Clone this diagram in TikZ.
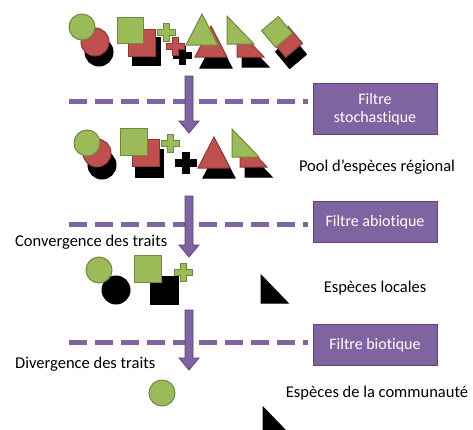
\documentclass[tikz,border=0pt]{standalone}
\usepackage{fontspec}
\setmainfont[Ligatures=NoCommon]{Carlito}
\definecolor{vertc}{HTML}{9BBB59}
\definecolor{vertf}{HTML}{71893F}
\definecolor{rougec}{HTML}{C0504D}
\definecolor{rougef}{HTML}{8C3836}
\definecolor{violetc}{HTML}{8064A2}
\definecolor{violetf}{HTML}{5C4776}
\begin{document}
\begin{tikzpicture}[x=1pt,y=-1pt,
  vert/.style={fill=vertc,draw=vertf,line width=1},
  rouge/.style={fill=rougec,draw=rougef,line width=1},
  noir/.style={fill=black,draw=black,line width=1},
  tiret/.style={draw=violetc,line width=5,dash pattern=on 18pt off 8pt},
  fleche/.style={fill=violetc,draw=violetf,line width=.8},
  filtre/.style={draw=violetf,fill=violetc,line width=1,text=white,minimum width=124,
    align=center,inner sep=0,font=\fontsize{16}{18}\selectfont},
  lbl/.style={font=\fontsize{16.5}{19}\selectfont,inner sep=0},
  croix/.pic={\path[pic actions] (-3,-9) -- (3,-9) -- (3,-3) -- (9,-3) -- (9,3) -- (3,3)
    -- (3,9) -- (-3,9) -- (-3,3) -- (-9,3) -- (-9,-3) -- (-3,-3) -- cycle;},
  tri/.pic={\path[pic actions] (0,0) -- (16,31) -- (-16,31) -- cycle;},
  trirect/.pic={\path[pic actions] (0,0) -- (0,28) -- (27,28) -- cycle;},
  losange/.pic={\path[pic actions,rotate=40] (-11,-11) rectangle (11,11);}]
  \clip (0,0) rectangle (473,429);

  % filtres et lignes de coupure
  \foreach \y in {101,224,342}
    \draw[tiret] (69,\y) -- (308,\y);
  \foreach \ya/\yb in {76/133,196/257,310/370}
    \draw[fleche] (185,\ya) -- (193,\ya) -- (193,\yb-12) -- (199,\yb-12) -- (189,\yb)
      -- (179,\yb-12) -- (185,\yb-12) -- cycle;
  \node[filtre,minimum height=51] (fstoch) at (375,109) {Filtre\\stochastique};
  \node[filtre,minimum height=41] (fabio) at (375,222) {Filtre abiotique};
  \node[filtre,minimum height=41] (fbio) at (375,345) {Filtre biotique};

  % pool de depart
  \draw[noir] (99,52) circle (14);
  \draw[rouge] (95,42) circle (14);
  \draw[vert] (82,27) circle (13);
  \draw[noir] (132,37) rectangle ++(28,28);
  \draw[rouge] (128,29) rectangle ++(27,27);
  \draw[vert] (117,17) rectangle ++(26,26);
  \pic[noir] at (182,55) {croix};
  \pic[rouge] at (175,46) {croix};
  \pic[vert] at (166,32) {croix};
  \pic[noir] at (216,37) {tri};
  \pic[rouge] at (211,26) {tri};
  \pic[vert] at (202,14) {tri};
  \pic[noir] at (242,39) {trirect};
  \pic[rouge] at (237,29) {trirect};
  \pic[vert] at (227,16) {trirect};
  \pic[noir] at (291,53) {losange};
  \pic[rouge] at (287,42) {losange};
  \pic[vert] at (277,32) {losange};

  % pool regional
  \draw[noir] (102,165) circle (14);
  \draw[rouge] (97,153) circle (14);
  \draw[vert] (87,143) circle (13);
  \draw[noir] (135,149) rectangle ++(28,28);
  \draw[rouge] (132,139) rectangle ++(27,27);
  \draw[vert] (120,128) rectangle ++(27,27);
  \pic[vert] at (170,143) {croix};
  \pic[noir,scale=1.15] at (186,163) {croix};
  \pic[noir] at (219,147) {tri};
  \pic[rouge] at (214,137) {tri};
  \pic[noir] at (245,149) {trirect};
  \pic[rouge] at (240,139) {trirect};
  \pic[vert] at (232,129) {trirect};
  \node[lbl] (pool) at (377,167) {Pool d’espèces régional};

  % especes locales
  \node[lbl,anchor=west] (conv) at (15,242) {Convergence des traits};
  \draw[noir] (116,290) circle (14);
  \draw[vert] (99,270) circle (13);
  \draw[noir] (150,276) rectangle ++(28,28);
  \draw[vert] (134,255) rectangle ++(27,27);
  \pic[vert] at (183,272) {croix};
  \pic[noir] at (261,275) {trirect};
  \node[lbl] (locales) at (375,288) {Espèces locales};

  % communaute
  \node[lbl,anchor=west] (div) at (15,364) {Divergence des traits};
  \draw[vert] (162,393) circle (13);
  \pic[noir] at (263,407) {trirect};
  \node[lbl] (commu) at (377,393) {Espèces de la communauté};
\end{tikzpicture}
\end{document}
